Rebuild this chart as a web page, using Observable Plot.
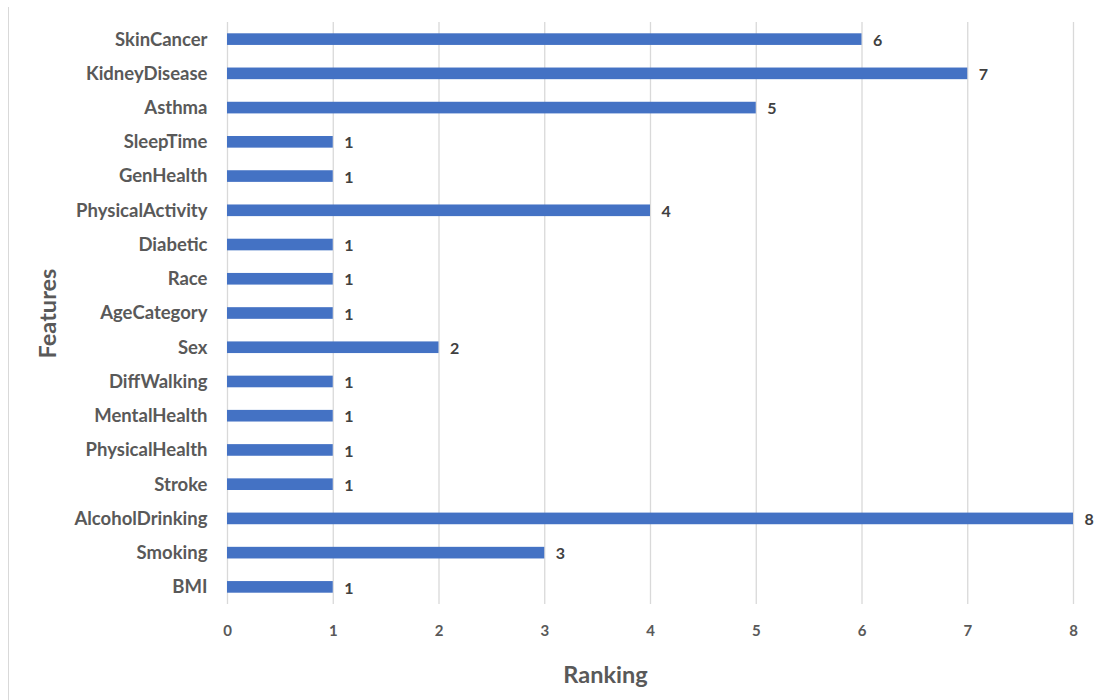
<!DOCTYPE html>
<html>
<head>
<meta charset="utf-8">
<script src="https://cdn.jsdelivr.net/npm/d3@7"></script>
<script src="https://cdn.jsdelivr.net/npm/@observablehq/plot@0.6"></script>
<style>
  html, body { margin: 0; padding: 0; background: #fff; }
  #wrap { position: relative; width: 1113px; height: 700px; }
  #edge { position: absolute; left: 8px; top: 7px; width: 1px; height: 693px; background: #d9d9d9; }
  svg text { font-family: Lato, "Open Sans", sans-serif; }
</style>
</head>
<body>
<div id="wrap"><div id="edge"></div></div>
<script>
// Feature names, listed top to bottom
const features = [
  "SkinCancer", "KidneyDisease", "Asthma", "SleepTime", "GenHealth",
  "PhysicalActivity", "Diabetic", "Race", "AgeCategory", "Sex",
  "DiffWalking", "MentalHealth", "PhysicalHealth", "Stroke",
  "AlcoholDrinking", "Smoking", "BMI"
];
// Ranking for each feature, same order
const ranking = [6, 7, 5, 1, 1, 4, 1, 1, 1, 2, 1, 1, 1, 1, 8, 3, 1];
// Ranking axis ticks
const rankTicks = [0, 1, 2, 3, 4, 5, 6, 7, 8];

const rows = features.map((f, i) => ({feature: f, rank: ranking[i]}));

const labelGray = "#595959";

const chart = Plot.plot({
  width: 1113,
  height: 700,
  marginLeft: 227,
  marginRight: 40,
  marginTop: 22,
  marginBottom: 96,
  style: {fontFamily: "Lato, 'Open Sans', sans-serif", background: "transparent"},
  x: {domain: [0, 8]},
  y: {domain: features, paddingInner: 0.66, paddingOuter: 0.33, round: false},
  marks: [
    Plot.gridX(rankTicks, {stroke: "#d9d9d9", strokeOpacity: 1, strokeWidth: 1.3}),
    Plot.barX(rows, {x: "rank", y: "feature", fill: "#4472C4"}),
    Plot.text(rows, {
      x: "rank", y: "feature", text: d => String(d.rank),
      textAnchor: "start", dx: 11, dy: 1,
      fontSize: 16, fontWeight: "bold", fill: "#404040"
    }),
    Plot.axisX({
      ticks: rankTicks, tickSize: 0, tickPadding: 21, label: null,
      fontSize: 15, fontWeight: "bold", fill: labelGray
    }),
    Plot.axisY({
      tickSize: 0, tickPadding: 20, label: null,
      fontSize: 18.5, fontWeight: "bold", fill: labelGray
    }),
    Plot.text(["Ranking"], {
      frameAnchor: "bottom", lineAnchor: "middle", textAnchor: "middle",
      dx: -45, dy: 71,
      fontSize: 23.5, fontWeight: "bold", fill: labelGray
    }),
    Plot.text(["Features"], {
      frameAnchor: "left", lineAnchor: "middle", textAnchor: "middle",
      rotate: -90, dx: -179, dy: 0,
      fontSize: 23.5, fontWeight: "bold", fill: labelGray
    })
  ]
});

document.getElementById("wrap").appendChild(chart);
chart.style.position = "absolute";
chart.style.left = "0";
chart.style.top = "0";
</script>
</body>
</html>
